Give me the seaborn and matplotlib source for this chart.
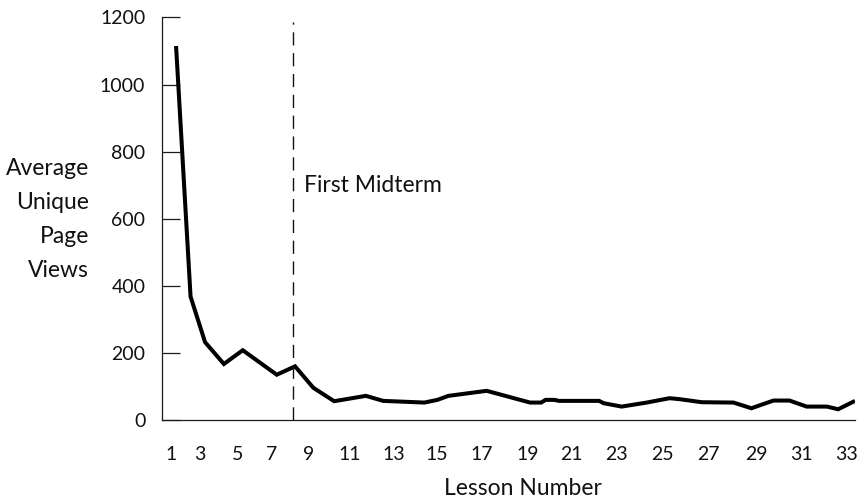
import numpy as np
import matplotlib
matplotlib.use("Agg")
import matplotlib.pyplot as plt
import matplotlib.transforms as mtransforms
import seaborn as sns

# ---------------- data ----------------
lessons = [1, 2, 3, 4, 5, 7, 8, 9, 10, 11.5, 12.3, 14.2, 14.8, 15.3, 17,
           18.9, 19.4, 19.6, 20, 20.2, 22, 22.2, 23, 24.1, 25.1, 25.55,
           26.5, 27.85, 28.6, 29, 29.55, 30.25, 31, 31.9, 32.4, 33.15]
views = [1115, 368, 232, 167, 208, 135, 160, 96, 56, 72, 57, 52, 60, 72, 87,
         52, 52, 60, 60, 57, 57, 50, 40, 52, 65, 62, 53, 52, 35, 45, 58,
         58, 40, 40, 32, 57]
midterm_lesson = 7.9
midterm_label = "First Midterm"
x_ticks = list(range(1, 34, 2))
y_ticks = [0, 200, 400, 600, 800, 1000, 1200]
x_title = "Lesson Number"
y_title = "Average\nUnique\nPage\nViews"

# ---------------- style ----------------
sns.set_style("white")
plt.rcParams["font.family"] = ["Lato", "DejaVu Sans"]
ink = "#1a1a1a"

fig = plt.figure(figsize=(8.6, 5.01), dpi=100)
ax = fig.add_axes([162 / 860, 1 - 420 / 501, 693 / 860, 402.5 / 501])

sns.lineplot(x=lessons, y=views, ax=ax, color="black", linewidth=2.9,
             errorbar=None, sort=True)
for ln in ax.get_lines():
    ln.set_solid_joinstyle("miter")
    ln.set_solid_capstyle("butt")

# uneven spacing of the original lesson axis (piecewise linear)
anchor_lessons = np.array([0, 1, 3, 5, 7, 9, 11, 13, 15, 17, 19, 21, 23,
                           25, 27, 29, 31, 33, 35], float)
anchor_stretch = np.array([0, 14.5, 43.5, 81.2, 115.2, 151.8, 193.5, 236.8,
                           280.2, 325.2, 370.8, 415.2, 460.2, 505.8, 551.8,
                           599.5, 645.2, 690.2, 735.2], float)


def _pw(x, xs, ys):
    x = np.asarray(x, float)
    y = np.interp(x, xs, ys)
    lo = ys[0] + (x - xs[0]) * (ys[1] - ys[0]) / (xs[1] - xs[0])
    hi = ys[-1] + (x - xs[-1]) * (ys[-1] - ys[-2]) / (xs[-1] - xs[-2])
    return np.where(x < xs[0], lo, np.where(x > xs[-1], hi, y))


def fwd(x):
    return _pw(x, anchor_lessons, anchor_stretch)


def inv(p):
    return _pw(p, anchor_stretch, anchor_lessons)


ax.set_xscale("function", functions=(fwd, inv))
ax.set_xlim(0.03, 33.15)
ax.set_ylim(0, 1200)

# midterm marker
ax.vlines(midterm_lesson, 0, 1188, colors="#111111", linewidth=1.0,
          linestyles=[(0, (9.5, 5.5))])
ax.annotate(midterm_label, xy=(midterm_lesson, 700), xytext=(7.5, 0),
            textcoords="offset points", ha="left", va="center",
            fontsize=16.5, color="#111111")

# axes styling
for side in ["top", "right"]:
    ax.spines[side].set_visible(False)
for side in ["left", "bottom"]:
    ax.spines[side].set_color(ink)
    ax.spines[side].set_linewidth(0.9)

ax.set_yticks(y_ticks)
ax.set_yticklabels([str(v) for v in y_ticks])
ax.set_xticks(x_ticks)
ax.set_xticklabels([str(v) for v in x_ticks])
ax.xaxis.set_minor_locator(matplotlib.ticker.NullLocator())
ax.tick_params(axis="y", direction="in", length=13, width=0.9, color=ink,
               pad=12, labelsize=14, labelcolor="#111111", left=True)
ax.tick_params(axis="x", length=0, pad=19, labelsize=14,
               labelcolor="#111111")
shift = mtransforms.ScaledTranslation(-5 / 100, 0, fig.dpi_scale_trans)
for lab in ax.get_xticklabels():
    lab.set_transform(lab.get_transform() + shift)

ax.set_xlabel(x_title, fontsize=16.5, color="#111111")
ax.xaxis.set_label_coords(0.521, -0.169)
ax.xaxis.label.set_verticalalignment("center")
ax.set_ylabel("")
fig.text(89 / 860, 1 - 219.5 / 501, y_title, ha="right", va="center",
         multialignment="right", fontsize=16.5, linespacing=1.78,
         color="#111111")

fig.savefig("out.png", dpi=100, facecolor="white")
